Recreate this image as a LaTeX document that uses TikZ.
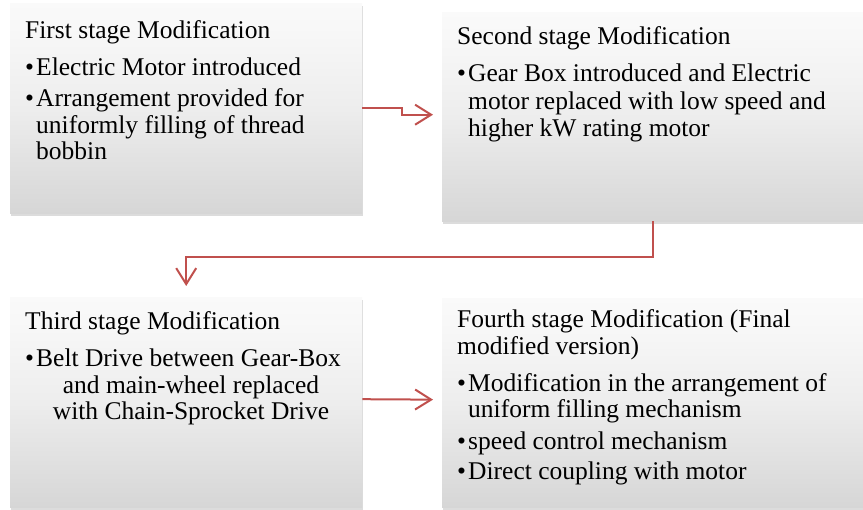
\documentclass[tikz,border=0pt]{standalone}
\usepackage{fontspec}
\setmainfont{Liberation Serif}
\usetikzlibrary{arrows.meta,shadows}
\definecolor{arr}{HTML}{C0504D}
\pgfdeclareverticalshading{boxshade}{100bp}{color(0bp)=(black!16); color(25bp)=(black!16); color(50bp)=(black!7); color(68bp)=(black!3); color(75bp)=(black!2); color(100bp)=(black!2)}
\newcommand{\bul}{\makebox[11pt][l]{•}}
\begin{document}
\begin{tikzpicture}[x=1pt,y=-1pt,
  box/.style={anchor=north west, inner sep=0pt, draw=none, shading=boxshade,
    drop shadow={shadow xshift=1pt, shadow yshift=-3pt, opacity=0.28}},
  txt/.style={anchor=base west, inner sep=0pt, font=\fontsize{25.5}{27}\selectfont},
  ctxt/.style={anchor=base, inner sep=0pt, font=\fontsize{25.5}{27}\selectfont},
  link/.style={draw=arr, line width=2pt, -{Straight Barb[length=16pt,width=20pt]}}
]
\useasboundingbox (0,0) rectangle (863,510);
% boxes
\node[box, minimum width=352pt, minimum height=210pt] (b1) at (10,3) {};
\node[box, minimum width=421pt, minimum height=209pt] (b2) at (442,12) {};
\node[box, minimum width=352pt, minimum height=210pt] (b3) at (10,297) {};
\node[box, minimum width=421pt, minimum height=209pt] (b4) at (442,298) {};
% box 1 text
\node[txt] (t1a) at (25,39) {First stage Modification};
\node[txt] (t1b) at (25,76) {\bul Electric Motor introduced};
\node[txt] (t1c) at (25,107) {\bul Arrangement provided for};
\node[txt] (t1d) at (36,134) {uniformly filling of thread};
\node[txt] (t1e) at (36,160) {bobbin};
% box 2 text
\node[txt] (t2a) at (457,45) {Second stage Modification};
\node[txt] (t2b) at (457,82) {\bul Gear Box introduced and Electric};
\node[txt] (t2c) at (468,110) {motor replaced with low speed and};
\node[txt] (t2d) at (468,137) {higher kW rating motor};
% box 3 text
\node[txt] (t3a) at (25,330) {Third stage Modification};
\node[txt] (t3b) at (25,367) {\bul Belt Drive between Gear-Box};
\node[ctxt] (t3c) at (191,394) {and main-wheel replaced};
\node[ctxt] (t3d) at (191,420) {with Chain-Sprocket Drive};
% box 4 text
\node[txt] (t4a) at (457,328) {Fourth stage Modification (Final};
\node[txt] (t4b) at (457,355) {modified version)};
\node[txt] (t4c) at (457,392) {\bul Modification in the arrangement of};
\node[txt] (t4d) at (468,418) {uniform filling mechanism};
\node[txt] (t4e) at (457,450) {\bul speed control mechanism};
\node[txt] (t4f) at (457,480) {\bul Direct coupling with motor};
% connectors
\draw[link, shorten >=9pt] (b1.east) -- ++(40,0) |- ([yshift=2pt]b2.west);
\draw[link, shorten >=11pt] (b2.south) -- ++(0,36) -| (b3.north);
\draw[link, shorten >=9pt] ([yshift=3pt]b3.east) -- ([yshift=3pt]b4.west);
\end{tikzpicture}
\end{document}
